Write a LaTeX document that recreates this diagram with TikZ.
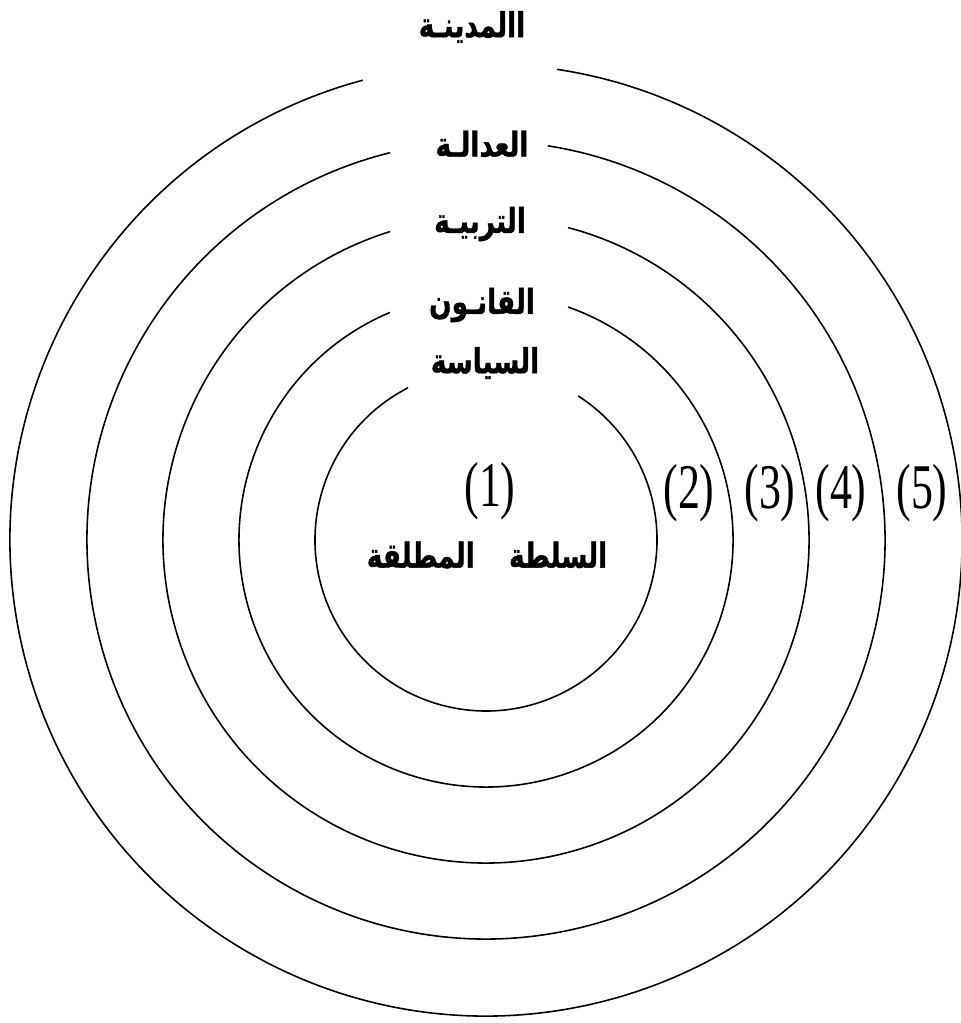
\documentclass[tikz,border=0pt]{standalone}
\usepackage{fontspec}
\usepackage{graphicx}
\setmainfont{Liberation Serif}
\newfontfamily\arabicfont[Script=Arabic, BoldFeatures={FakeBold=1.2}]{DejaVu Sans}
\TeXXeTstate=1
\usepackage{tikz}
\usetikzlibrary{positioning,calc}
\newcommand{\rtl}[1]{\scalebox{1}[1.3]{\beginR #1\endR}}
\newcommand{\tallnum}[1]{\scalebox{1}[1.45]{#1}}

\begin{document}
\begin{tikzpicture}[
    x=0.02cm, y=0.02cm,
    ring/.style={draw=black, line width=0.9pt},
    arlabel/.style={inner sep=0pt, font=\arabicfont\bfseries\fontsize{15}{18}\selectfont},
    numlabel/.style={inner sep=0pt, font=\fontsize{25}{25}\selectfont}
]
    \useasboundingbox (0,0) rectangle (960,1023);
    \coordinate (c) at (486,483);

    % Rings, each one open at the top
    \draw[ring] (c) ++(117.1:171) arc[start angle=117.1, end angle=417.4, radius=171];
    \draw[ring] (c) ++(112.9:247) arc[start angle=112.9, end angle=430.6, radius=247];
    \draw[ring] (c) ++(107.3:323) arc[start angle=107.3, end angle=435.3, radius=323];
    \draw[ring] (c) ++(103.9:399) arc[start angle=103.9, end angle=441.1, radius=399];
    \draw[ring] (c) ++(105.0:476) arc[start angle=105.0, end angle=441.4, radius=476];

    % Ring names
    \node[arlabel] (city) at (472,996) {\rtl{االمدينـة}};
    \node[arlabel] (justice) at (482,879) {\rtl{العدالـة}};
    \node[arlabel] (education) at (480,799) {\rtl{التربيـة}};
    \node[arlabel] (law) at (482,718) {\rtl{القانـون}};
    \node[arlabel] (politics) at (485,660) {\rtl{السياسة}};

    % Centre
    \node[numlabel] (n1) at (490,532) {\tallnum{(1)}};
    \node[arlabel] (power) at (487,468) {\rtl{السلطة\hspace{1.3em}المطلقة}};

    % Ring numbers
    \node[numlabel] (n2) at (689,530) {\tallnum{(2)}};
    \node[numlabel] (n3) at (770,530) {\tallnum{(3)}};
    \node[numlabel] (n4) at (841,530) {\tallnum{(4)}};
    \node[numlabel] (n5) at (922,530) {\tallnum{(5)}};
\end{tikzpicture}
\end{document}
